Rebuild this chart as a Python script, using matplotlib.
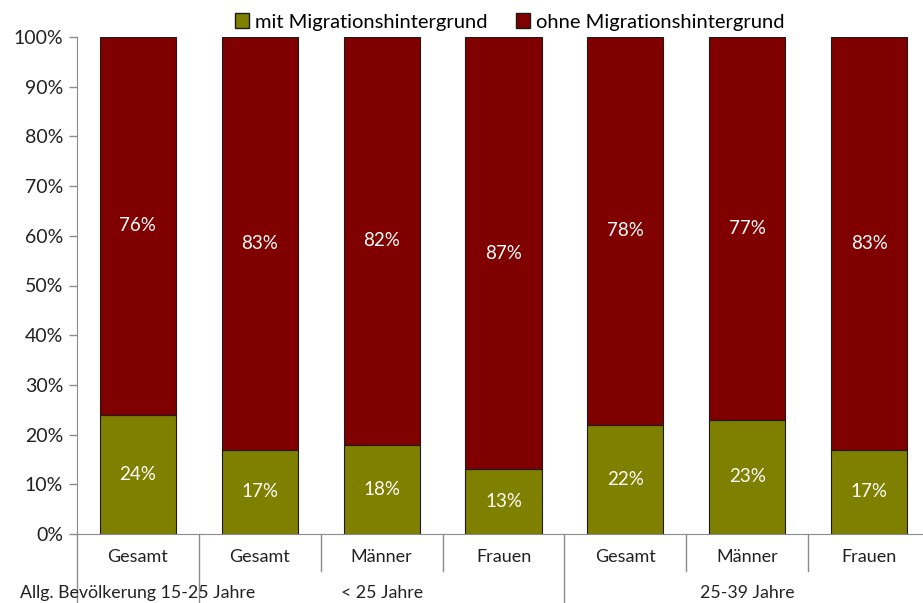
import matplotlib
matplotlib.use("Agg")
import matplotlib.pyplot as plt
import matplotlib.transforms as mtransforms
from matplotlib.patches import Patch

# data
categories = ['Gesamt', 'Gesamt', 'Männer', 'Frauen', 'Gesamt', 'Männer', 'Frauen']
mit_migration = [24, 17, 18, 13, 22, 23, 17]
ohne_migration = [76, 83, 82, 87, 78, 77, 83]
groups = ['Allg. Bevölkerung 15-25 Jahre', '< 25 Jahre', '25-39 Jahre']
group_spans = [(0, 1), (1, 4), (4, 7)]   # category index ranges per group

col_mit = '#808000'
col_ohne = '#800000'
axis_col = '#8c8c8c'
text_col = '#222222'

plt.rcParams['font.family'] = ['Lato', 'DejaVu Sans']

fig = plt.figure(figsize=(9.23, 6.03), dpi=100)
ax = fig.add_axes([77 / 923, 1 - 534 / 603, 853 / 923, 497 / 603])

x = list(range(len(categories)))
bw = 0.625
ax.bar(x, mit_migration, bw, color=col_mit, edgecolor='#1a1a1a', linewidth=0.8)
ax.bar(x, ohne_migration, bw, bottom=mit_migration, color=col_ohne,
       edgecolor='#1a1a1a', linewidth=0.8)

# value labels in the middle of each segment
for i in x:
    ax.text(i, mit_migration[i] / 2, f'{mit_migration[i]}%', ha='center', va='center',
            color='white', fontsize=13.5)
    ax.text(i, mit_migration[i] + ohne_migration[i] / 2, f'{ohne_migration[i]}%',
            ha='center', va='center', color='white', fontsize=13.5)

ax.set_xlim(-0.5, len(categories) - 0.5)
ax.set_ylim(0, 100)
ax.set_yticks(range(0, 101, 10))
ax.set_yticklabels([f'{v}%' for v in range(0, 101, 10)], fontsize=14, color=text_col)
ax.tick_params(axis='y', length=6, color=axis_col, width=1, pad=4)
ax.set_xticks([])

for s in ['top', 'right']:
    ax.spines[s].set_visible(False)
ax.spines['left'].set_color(axis_col)
ax.spines['bottom'].set_color(axis_col)

# category and group labels below the axis
trans = mtransforms.blended_transform_factory(ax.transData, ax.transAxes)
for i, c in enumerate(categories):
    ax.text(i, -23 / 497, c, transform=trans, ha='center', va='center', fontsize=13,
            color=text_col)
for g, (a, b) in zip(groups, group_spans):
    ax.text((a + b - 1) / 2, -59 / 497, g, transform=trans, ha='center', va='center',
            fontsize=12.8, color=text_col)

# separator lines between categories and groups
for k in range(len(categories)):
    xs = k - 0.5
    y0 = -75 / 497 if k in (0, 1, 4) else -37 / 497
    ax.plot([xs, xs], [0, y0], transform=trans, color=axis_col, lw=1, clip_on=False)

handles = [Patch(facecolor=col_mit, edgecolor='#1a1a1a', label='mit Migrationshintergrund'),
           Patch(facecolor=col_ohne, edgecolor='#1a1a1a', label='ohne Migrationshintergrund')]
fig.legend(handles=handles, loc='center', bbox_to_anchor=(510 / 923, 1 - 22 / 603), ncol=2,
           frameon=False, fontsize=14.5, handlelength=0.7, handleheight=0.7,
           handletextpad=0.3, columnspacing=1.4)

fig.savefig('out.png', dpi=100)
